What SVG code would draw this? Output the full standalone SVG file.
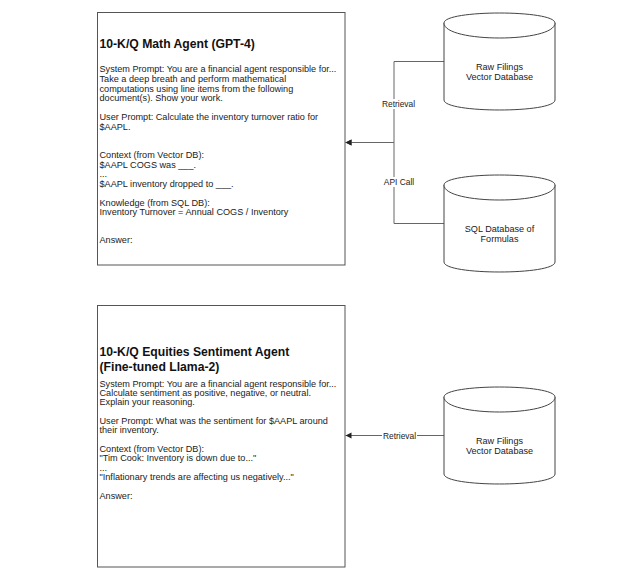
<svg xmlns="http://www.w3.org/2000/svg" width="633" height="578" viewBox="0 0 633 578">
<style>
.box{fill:#fff;stroke:#555;stroke-width:1}
.cyl{fill:#fff;stroke:#444;stroke-width:1}
.edge{fill:none;stroke:#666;stroke-width:1}
.t{font-family:"Liberation Sans",Arial,sans-serif;font-size:9.15px;fill:#222}
.h{font-family:"Liberation Sans",Arial,sans-serif;font-size:12.2px;font-weight:bold;fill:#111}
.c{font-family:"Liberation Sans",Arial,sans-serif;font-size:9.1px;fill:#222;text-anchor:middle}
.lbl{font-family:"Liberation Sans",Arial,sans-serif;font-size:8.4px;fill:#222;text-anchor:middle}
</style>
<defs>
<marker id="arr" markerUnits="userSpaceOnUse" markerWidth="8" markerHeight="8" viewBox="0 0 8 8" refX="6" refY="4" orient="auto">
<path d="M0,1 L6,4 L0,7 Z" fill="#222"/>
</marker>
</defs>
<rect width="633" height="578" fill="#fff"/>

<g id="connectors">
<path class="edge" d="M444,61.5 H394 V142.5 H345.5" marker-end="url(#arr)"/>
<path class="edge" d="M444,223.5 H394 V142.5 H345.5" marker-end="url(#arr)"/>
<path class="edge" d="M444,435.5 H345.5" marker-end="url(#arr)"/>
<rect x="381" y="99" width="35" height="10" fill="#fff"/>
<text class="lbl" x="398.5" y="107">Retrieval</text>
<rect x="384" y="177" width="30" height="10" fill="#fff"/>
<text class="lbl" x="399" y="185">API Call</text>
<rect x="382" y="431" width="35" height="10" fill="#fff"/>
<text class="lbl" x="399.5" y="439">Retrieval</text>
</g>

<g id="math-agent">
<rect class="box" x="97.5" y="12.5" width="247.5" height="252.5"/>
<text class="h" x="99.5" y="47.5">10-K/Q Math Agent (GPT-4)</text>
<text class="t" x="99.5" y="72.2">System Prompt: You are a financial agent responsible for...</text>
<text class="t" x="99.5" y="81.9">Take a deep breath and perform mathematical</text>
<text class="t" x="99.5" y="91.6">computations using line items from the following</text>
<text class="t" x="99.5" y="101.3">document(s). Show your work.</text>
<text class="t" x="99.5" y="120.2">User Prompt: Calculate the inventory turnover ratio for</text>
<text class="t" x="99.5" y="129.7">$AAPL.</text>
<text class="t" x="99.5" y="158">Context (from Vector DB):</text>
<text class="t" x="99.5" y="167.5">$AAPL COGS was ___.</text>
<text class="t" x="99.5" y="177">...</text>
<text class="t" x="99.5" y="186.5">$AAPL inventory dropped to ___.</text>
<text class="t" x="99.5" y="205.5">Knowledge (from SQL DB):</text>
<text class="t" x="99.5" y="215">Inventory Turnover = Annual COGS / Inventory</text>
<text class="t" x="99.5" y="243">Answer:</text>
</g>

<g id="vector-db-1">
<path class="cyl" d="M444,23 C444,9.67 555,9.67 555,23 L555,100 C555,113.33 444,113.33 444,100 Z"/>
<path class="cyl" fill="none" d="M444,23 C444,43 555,43 555,23"/>
<text class="c" x="499.5" y="69.7">Raw Filings</text>
<text class="c" x="499.5" y="79.9">Vector Database</text>
</g>

<g id="sql-db">
<path class="cyl" d="M444,185 C444,171.67 555,171.67 555,185 L555,262 C555,275.33 444,275.33 444,262 Z"/>
<path class="cyl" fill="none" d="M444,185 C444,205 555,205 555,185"/>
<text class="c" x="499.5" y="231.7">SQL Database of</text>
<text class="c" x="499.5" y="241.9">Formulas</text>
</g>

<g id="sentiment-agent">
<rect class="box" x="97.5" y="305.5" width="247.5" height="261.5"/>
<text class="h" x="99.5" y="356">10-K/Q Equities Sentiment Agent</text>
<text class="h" x="99.5" y="371">(Fine-tuned Llama-2)</text>
<text class="t" x="99.5" y="386.5">System Prompt: You are a financial agent responsible for...</text>
<text class="t" x="99.5" y="395.9">Calculate sentiment as positive, negative, or neutral.</text>
<text class="t" x="99.5" y="405.3">Explain your reasoning.</text>
<text class="t" x="99.5" y="424">User Prompt: What was the sentiment for $AAPL around</text>
<text class="t" x="99.5" y="433.4">their inventory.</text>
<text class="t" x="99.5" y="452">Context (from Vector DB):</text>
<text class="t" x="99.5" y="461.4">"Tim Cook: Inventory is down due to..."</text>
<text class="t" x="99.5" y="470.8">...</text>
<text class="t" x="99.5" y="480.2">"Inflationary trends are affecting us negatively..."</text>
<text class="t" x="99.5" y="499">Answer:</text>
</g>

<g id="vector-db-2">
<path class="cyl" d="M444,397 C444,383.67 555,383.67 555,397 L555,474 C555,487.33 444,487.33 444,474 Z"/>
<path class="cyl" fill="none" d="M444,397 C444,417 555,417 555,397"/>
<text class="c" x="499.5" y="443.7">Raw Filings</text>
<text class="c" x="499.5" y="453.9">Vector Database</text>
</g>
</svg>
